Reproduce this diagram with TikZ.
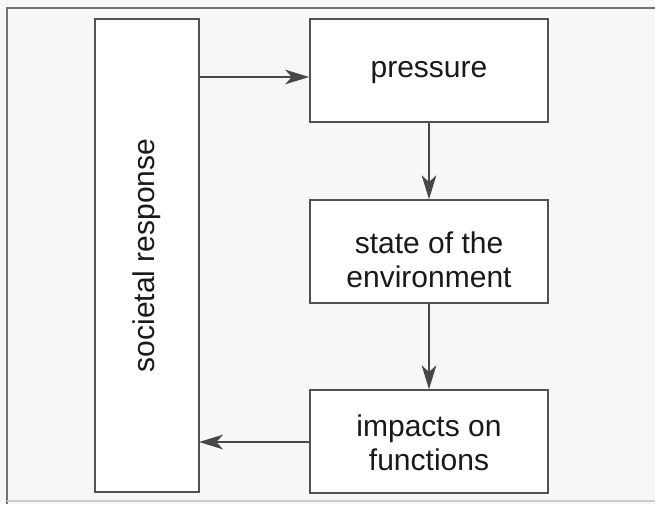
\documentclass[tikz,border=0pt]{standalone}
\usepackage{fontspec}
\setmainfont{Liberation Sans}
\usetikzlibrary{arrows.meta}
\begin{document}
\begin{tikzpicture}[x=0.75pt,y=-0.75pt,
  box/.style={draw=black!68, line width=1.3pt, fill=white, inner sep=0pt,
    minimum width=178.5pt, minimum height=77pt},
  lbl/.style={align=center, inner sep=0pt, font=\fontsize{22.5}{25.5}\selectfont, text=black!90},
  conn/.style={draw=black!72, line width=1.3pt, -{Stealth[length=18pt,width=11pt,inset=5pt]}}]
\useasboundingbox (0,0) rectangle (655,504);
\fill[black!3] (0,0) rectangle (655,504);
\draw[black!55, line width=1.1pt] (7,504) -- (7,8) -- (655,8);
\draw[black!20, line width=0.8pt] (7,501) -- (655,501);
\node[box, minimum width=78pt, minimum height=355pt] (soc) at (147,255.5) {};
\node[lbl, rotate=90] (soct) at (soc.center) {societal response};
\node[box] (pre) at (429,70.5) {};
\node[lbl] (pret) at (429,73) {pressure};
\node[box] (sta) at (429,251.5) {};
\node[lbl] (stat) at (429,260) {state of the\\environment};
\node[box] (imp) at (429,441.5) {};
\node[lbl] (impt) at (429,443) {impacts on\\functions};
\coordinate (a1) at (199,77);
\coordinate (a4) at (199,442);
\draw[conn] (a1) -- (a1 -| pre.west);
\draw[conn] (pre.south) -- (sta.north);
\draw[conn] (sta.south) -- (imp.north);
\draw[conn] (imp.west |- a4) -- (a4);
\end{tikzpicture}
\end{document}
